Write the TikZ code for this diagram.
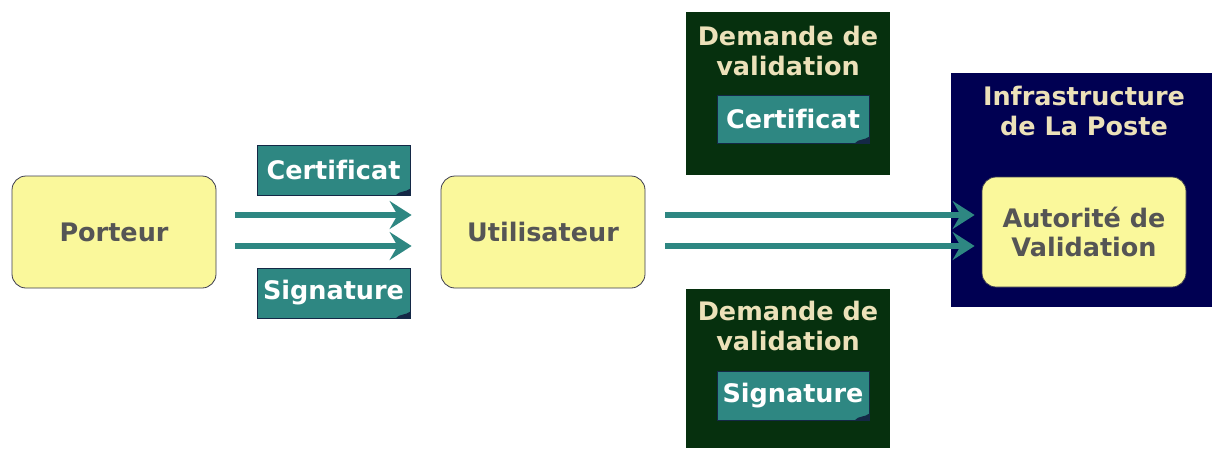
\documentclass[tikz,border=0pt]{standalone}
\usepackage{fontspec}
\setmainfont{DejaVu Sans}[Ligatures=NoCommon]
\usetikzlibrary{arrows.meta}
\definecolor{boxyellow}{RGB}{250,248,155}
\definecolor{boxedge}{RGB}{60,60,80}
\definecolor{greytext}{RGB}{85,85,85}
\definecolor{teal1}{RGB}{46,135,130}
\definecolor{darkgreen}{RGB}{6,48,14}
\definecolor{navy1}{RGB}{0,0,82}
\definecolor{beige}{RGB}{236,225,185}
\definecolor{docedge}{RGB}{20,40,70}
\tikzset{
  ybox/.style={draw=boxedge, line width=0.8pt, fill=boxyellow, rounded corners=14pt,
    text=greytext, font=\fontsize{25.5}{29.5}\selectfont\bfseries, align=center, inner sep=0pt},
  docbox/.style={draw=docedge, line width=1pt, fill=teal1, text=white,
    font=\fontsize{25.5}{29.5}\selectfont\bfseries, inner sep=0pt},
  darkbox/.style={draw=none, inner sep=0pt},
  title/.style={text=beige, font=\fontsize{25.5}{29.5}\selectfont\bfseries, align=center, inner sep=0pt},
  flow/.style={draw=teal1, line width=6pt, -{Stealth[length=22pt,width=28pt,inset=8pt]}},
  fold/.style={fill=docedge}
}
\newcommand{\docfold}[1]{%
  \fill[fold] ([xshift=-15pt]#1.south east) .. controls ([xshift=-11pt,yshift=5pt]#1.south east) and ([xshift=-5pt,yshift=3pt]#1.south east) .. ([yshift=7pt]#1.south east) -- (#1.south east) -- cycle;}
\begin{document}
\begin{tikzpicture}[x=1pt,y=-1pt]
\useasboundingbox (0,0) rectangle (1215,448);
% dark boxes
\node[darkbox, fill=darkgreen, minimum width=204pt, minimum height=163pt] (dem1) at (788,93.5) {};
\node[darkbox, fill=darkgreen, minimum width=204pt, minimum height=159pt] (dem2) at (788,368.5) {};
\node[darkbox, fill=navy1, minimum width=261pt, minimum height=234pt] (infra) at (1081.5,190) {};
\node[title] (dem1t) at (788,51) {Demande de\\validation};
\node[title] (dem2t) at (788,326) {Demande de\\validation};
\node[title] (infrat) at (1084,111) {Infrastructure\\de La Poste};
% yellow boxes
\node[ybox, minimum width=204pt, minimum height=112pt] (porteur) at (114,232) {Porteur};
\node[ybox, minimum width=204pt, minimum height=112pt] (util) at (543,232) {Utilisateur};
\node[ybox, minimum width=204pt, minimum height=110pt] (av) at (1084,232) {Autorité de\\Validation};
% documents
\node[docbox, minimum width=153pt, minimum height=50pt] (cert1) at (333.5,170) {Certificat};
\node[docbox, minimum width=153pt, minimum height=50pt] (sig1) at (333.5,293) {Signature};
\node[docbox, minimum width=152pt, minimum height=48pt] (cert2) at (793,119) {Certificat};
\node[docbox, minimum width=152pt, minimum height=49pt] (sig2) at (793,395.5) {Signature};
\docfold{cert1}\docfold{sig1}\docfold{cert2}\docfold{sig2}
% arrows
\draw[flow, shorten <=19pt, shorten >=29pt] (porteur.east |- 0,215) -- (util.west |- 0,215);
\draw[flow, shorten <=19pt, shorten >=29pt] (porteur.east |- 0,246) -- (util.west |- 0,246);
\draw[flow, shorten <=20pt, shorten >=7pt] (util.east |- 0,215) -- (av.west |- 0,215);
\draw[flow, shorten <=20pt, shorten >=7pt] (util.east |- 0,246) -- (av.west |- 0,246);
\end{tikzpicture}
\end{document}
